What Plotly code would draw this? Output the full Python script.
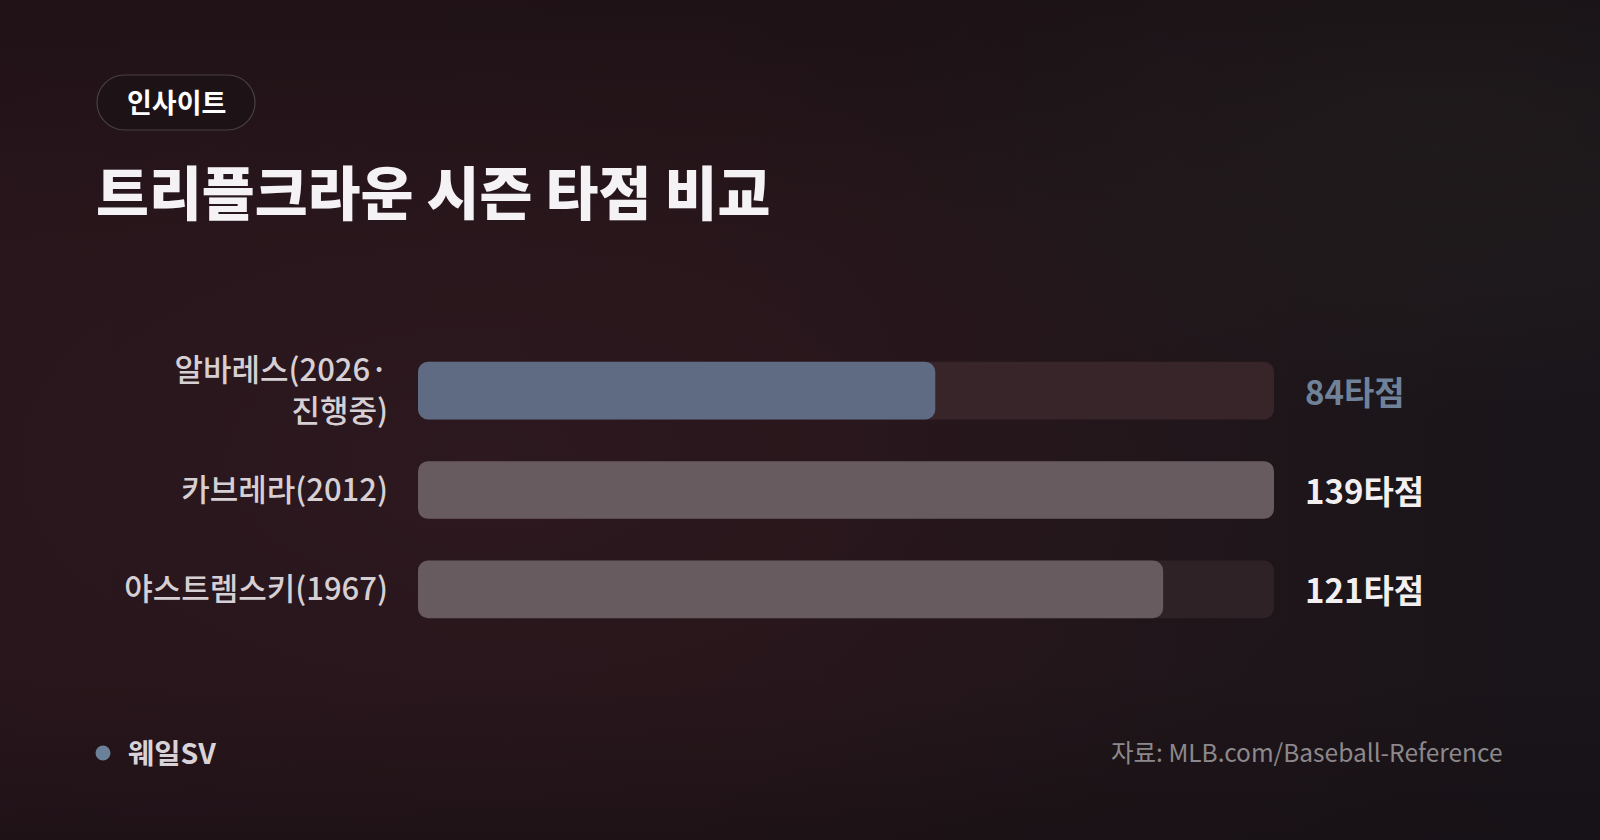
import base64
import plotly.graph_objects as go

# ---------------- data ----------------
players = ["알바레스(2026·<br>진행중)", "카브레라(2012)", "야스트렘스키(1967)"]
rbi = [84, 139, 121]
value_suffix = "타점"
highlight = [True, False, False]
title = "트리플크라운 시즌 타점 비교"
badge = "인사이트"
brand = "웨일SV"
source = "자료: MLB.com/Baseball-Reference"

# ---------------- layout constants ----------------
W, H = 1600, 840
L, R, T, B = 418, 1274, 341, 639
FONT = "Noto Sans CJK KR, Noto Sans, sans-serif"


def px(x):
    return (x - L) / (R - L)


def py(y):
    return (B - y) / (B - T)


track_max = max(rbi)

# background as an SVG gradient
svg = f"""<svg xmlns='http://www.w3.org/2000/svg' width='{W}' height='{H}'>
<defs>
<linearGradient id='lg' x1='0' y1='0' x2='1' y2='0'>
<stop offset='0' stop-color='#27151b'/>
<stop offset='0.45' stop-color='#251519'/>
<stop offset='1' stop-color='#19151a'/>
</linearGradient>
<radialGradient id='rg' cx='0.3' cy='0.55' r='0.55'>
<stop offset='0' stop-color='#2e1920' stop-opacity='0.8'/>
<stop offset='1' stop-color='#2e1920' stop-opacity='0'/>
</radialGradient>
<radialGradient id='rg2' cx='0.9' cy='0.15' r='0.35'>
<stop offset='0' stop-color='#24201f' stop-opacity='0.7'/>
<stop offset='1' stop-color='#24201f' stop-opacity='0'/>
</radialGradient>
<linearGradient id='dk' x1='0' y1='0' x2='0' y2='1'>
<stop offset='0' stop-color='#140c10' stop-opacity='0.35'/>
<stop offset='0.3' stop-color='#140c10' stop-opacity='0'/>
<stop offset='0.8' stop-color='#100c10' stop-opacity='0'/>
<stop offset='1' stop-color='#100c10' stop-opacity='0.35'/>
</linearGradient>
</defs>
<rect width='{W}' height='{H}' fill='url(#lg)'/>
<rect width='{W}' height='{H}' fill='url(#rg)'/>
<rect width='{W}' height='{H}' fill='url(#rg2)'/>
<rect width='{W}' height='{H}' fill='url(#dk)'/>
</svg>"""
bg_src = "data:image/svg+xml;base64," + base64.b64encode(svg.encode()).decode()

bar_colors = ["#5e6b82" if h else "#685b5f" for h in highlight]
track_colors = ["#38252a" if h else "#2e2226" for h in highlight]
value_colors = ["#6f8299" if h else "#f3eff1" for h in highlight]

fig = go.Figure()
# track (explicit base -> both ends rounded)
fig.add_trace(go.Bar(
    x=[track_max] * len(players), base=[0] * len(players), y=players, orientation="h",
    marker=dict(color=track_colors, cornerradius=10, line=dict(width=0)),
    width=0.58, hoverinfo="skip", showlegend=False,
))
fig.add_trace(go.Bar(
    x=rbi, base=[0] * len(players), y=players, orientation="h",
    marker=dict(color=bar_colors, cornerradius=10, line=dict(width=0)),
    width=0.58, showlegend=False,
    hovertemplate="%{y}: %{x}<extra></extra>",
))

annotations = []
for p, v, c in zip(players, rbi, value_colors):
    annotations.append(dict(
        x=track_max, y=p, xref="x", yref="y", xanchor="left", yanchor="middle",
        xshift=29, showarrow=False, text=f"{v}{value_suffix}",
        font=dict(family=FONT, size=33, color=c, weight=700),
    ))

# title
annotations.append(dict(
    x=px(94), y=py(190), xref="paper", yref="paper", xanchor="left", yanchor="middle",
    showarrow=False, text=title,
    font=dict(family=FONT, size=57.5, color="#f4f2f4", weight=900),
))
# badge text
annotations.append(dict(
    x=px(176), y=py(101), xref="paper", yref="paper", xanchor="center", yanchor="middle",
    showarrow=False, text=badge,
    font=dict(family=FONT, size=27, color="#ffffff", weight=700),
))
# brand
annotations.append(dict(
    x=px(126), y=py(751), xref="paper", yref="paper", xanchor="left", yanchor="middle",
    showarrow=False, text=brand,
    font=dict(family=FONT, size=28.5, color="#d9d3d7", weight=700),
))
# source
annotations.append(dict(
    x=px(1504), y=py(751), xref="paper", yref="paper", xanchor="right", yanchor="middle",
    showarrow=False, text=source,
    font=dict(family=FONT, size=24.5, color="#8d888b", weight=400),
))

# pill path for badge
x0, x1, y0, y1 = 97, 255, 75, 130
r = (y1 - y0) / 2
k = 0.5523 * r


def P(x, y):
    return f"{px(x):.5f},{py(y):.5f}"


pill = (
    f"M {P(x0 + r, y0)} L {P(x1 - r, y0)} "
    f"C {P(x1 - r + k, y0)} {P(x1, y0 + r - k)} {P(x1, y0 + r)} "
    f"C {P(x1, y0 + r + k)} {P(x1 - r + k, y1)} {P(x1 - r, y1)} "
    f"L {P(x0 + r, y1)} "
    f"C {P(x0 + r - k, y1)} {P(x0, y0 + r + k)} {P(x0, y0 + r)} "
    f"C {P(x0, y0 + r - k)} {P(x0 + r - k, y0)} {P(x0 + r, y0)} Z"
)

shapes = [
    dict(type="path", xref="paper", yref="paper", path=pill,
         fillcolor="#1d1317", line=dict(color="#4a3f44", width=1.2), layer="below"),
    dict(type="circle", xref="paper", yref="paper",
         x0=px(95.5), x1=px(110.5), y0=py(745.5), y1=py(760.5),
         fillcolor="#6a8199", line=dict(width=0)),
]

fig.update_layout(
    width=W, height=H,
    margin=dict(l=L, r=W - R, t=T, b=H - B, pad=0),
    paper_bgcolor="#221419", plot_bgcolor="rgba(0,0,0,0)",
    barmode="overlay",
    xaxis=dict(range=[0, track_max], visible=False, fixedrange=True),
    yaxis=dict(
        categoryorder="array", categoryarray=players, autorange="reversed",
        showgrid=False, zeroline=False, showline=False, ticks="",
        ticklabelstandoff=29,
        tickfont=dict(family=FONT, size=31, color="#d6cfd3", weight=500),
        fixedrange=True,
    ),
    images=[dict(
        source=bg_src, xref="paper", yref="paper",
        x=px(0), y=py(0), sizex=W / (R - L), sizey=H / (B - T),
        xanchor="left", yanchor="top", sizing="stretch", layer="below",
    )],
    shapes=shapes,
    annotations=annotations,
    showlegend=False,
)

fig.write_html(
    "out.html",
    config={"displayModeBar": False},
    post_script="document.body.style.margin='0';document.body.style.overflow='hidden';"
                "document.body.style.background='#221419';",
)
